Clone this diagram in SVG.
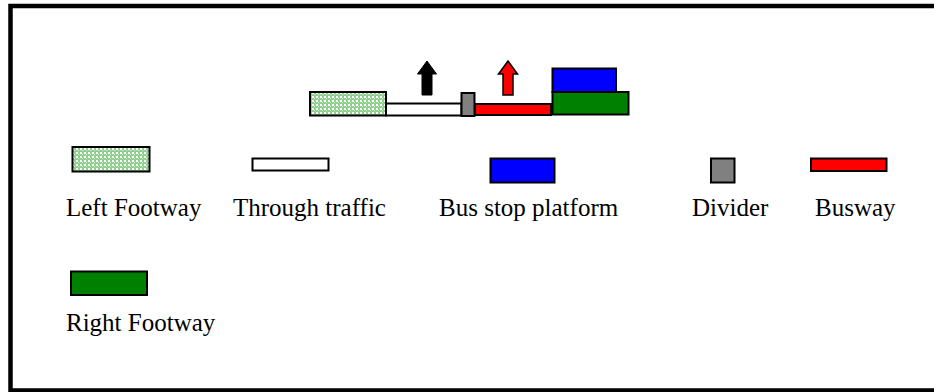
<svg xmlns="http://www.w3.org/2000/svg" width="934" height="392" viewBox="0 0 934 392">
<defs>
<pattern id="dots" width="4" height="4" patternUnits="userSpaceOnUse">
<rect width="4" height="4" fill="#8fd08f"/>
<rect x="0" y="0" width="2" height="2" fill="#ffffff"/>
<rect x="2" y="2" width="1" height="1" fill="#d8f0d8"/>
</pattern>
<style>
.b{stroke:#000;stroke-width:2}
.lbl{font-family:"Liberation Serif","Times New Roman",serif;font-size:25px;fill:#000}
</style>
</defs>
<rect x="10.5" y="6" width="940" height="384.5" fill="#fff" stroke="#000" stroke-width="4.5"/>
<g id="cross-section">
<rect id="s-left-footway" class="b" x="310" y="92" width="76" height="23.5" fill="url(#dots)"/>
<rect id="s-through" class="b" x="386" y="103.5" width="75.5" height="12" fill="#fff"/>
<rect id="s-divider" class="b" x="461.5" y="93" width="13" height="23" fill="#808080"/>
<rect id="s-busway" class="b" x="475" y="104" width="76" height="11" fill="#ff0000"/>
<rect id="s-platform" class="b" x="552.5" y="68.5" width="63.5" height="23.5" fill="#0000ff"/>
<rect id="s-right-footway" class="b" x="552.5" y="92" width="76" height="22.5" fill="#008000"/>
</g>
<g id="arrows">
<polygon id="arrow-black" points="427,61 436.5,74 432,74 432,95 422,95 422,74 417.5,74" fill="#000" stroke="#000" stroke-width="1"/>
<polygon id="arrow-red" points="508,61 517.5,74 513,74 513,95 503,95 503,74 498.5,74" fill="#ff0000" stroke="#000" stroke-width="1.5"/>
</g>
<g id="legend-left-footway">
<rect class="b" x="72.5" y="147" width="77" height="24.5" fill="url(#dots)"/>
<text class="lbl" x="66" y="216">Left Footway</text>
</g>
<g id="legend-through">
<rect class="b" x="252.5" y="158.5" width="76" height="12" fill="#fff"/>
<text class="lbl" x="233" y="216">Through traffic</text>
</g>
<g id="legend-platform">
<rect class="b" x="490.5" y="158.5" width="64" height="24" fill="#0000ff"/>
<text class="lbl" x="439" y="216">Bus stop platform</text>
</g>
<g id="legend-divider">
<rect class="b" x="711" y="158.5" width="23.5" height="24" fill="#808080"/>
<text class="lbl" x="692" y="216">Divider</text>
</g>
<g id="legend-busway">
<rect class="b" x="811" y="158.5" width="75.5" height="12.5" fill="#ff0000"/>
<text class="lbl" x="815" y="216">Busway</text>
</g>
<g id="legend-right-footway">
<rect class="b" x="71" y="271.5" width="76" height="23.5" fill="#008000"/>
<text class="lbl" x="66" y="331">Right Footway</text>
</g>
</svg>
